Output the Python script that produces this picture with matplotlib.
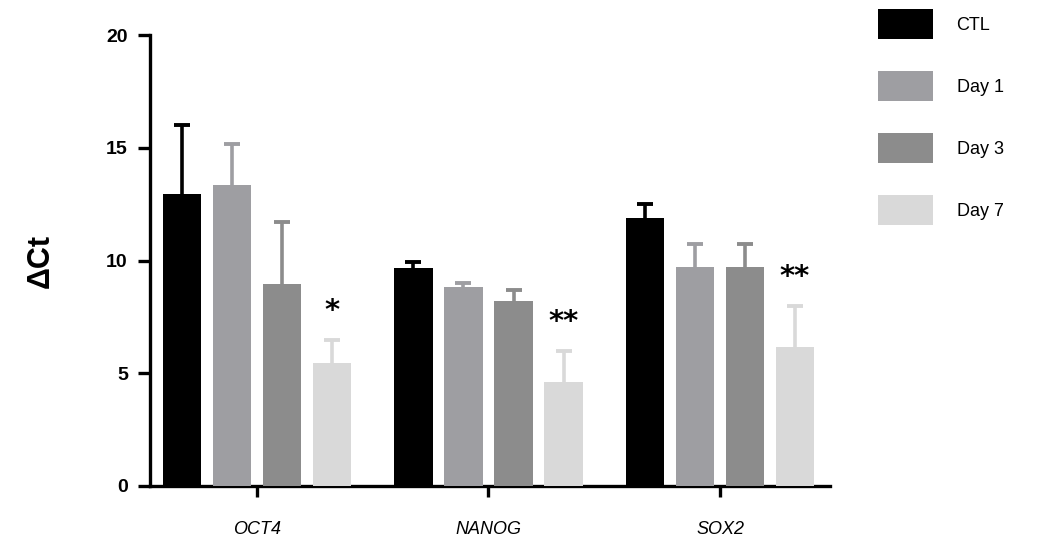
import matplotlib
matplotlib.use("Agg")
import matplotlib.pyplot as plt
import numpy as np
from matplotlib.patches import Patch

plt.rcParams['font.family'] = ['Liberation Sans', 'DejaVu Sans']

genes = ["OCT4", "NANOG", "SOX2"]
series = ["CTL", "Day 1", "Day 3", "Day 7"]
means = {
    "CTL":   [12.95, 9.68, 11.9],
    "Day 1": [13.35, 8.84, 9.73],
    "Day 3": [8.96, 8.22, 9.73],
    "Day 7": [5.47, 4.63, 6.18],
}
errs = {
    "CTL":   [3.05, 0.27, 0.6],
    "Day 1": [1.82, 0.15, 0.99],
    "Day 3": [2.76, 0.47, 0.99],
    "Day 7": [1.0, 1.36, 1.8],
}
stars = {"Day 7": ["*", "**", "**"]}
colors = {"CTL": "#000000", "Day 1": "#9e9ea2", "Day 3": "#8c8c8c", "Day 7": "#d9d9d9"}
yticks = [0, 5, 10, 15, 20]

fig = plt.figure(figsize=(10.52, 5.4), dpi=100)
ax = fig.add_axes([150/1052, 1-486/540, (830-150)/1052, (486-35)/540])

x = np.arange(len(genes))
step = 0.216
width = 0.168
hide = 0.4
for i, s in enumerate(series):
    pos = x + (i - 1.5) * step
    m = np.array(means[s])
    e = np.array(errs[s])
    ax.bar(pos, m, width=width, color=colors[s], zorder=3)
    ax.errorbar(pos, m - hide, yerr=[np.zeros_like(e), e + hide], fmt='none',
                ecolor=colors[s], elinewidth=2.6, capsize=6, capthick=2.8, zorder=1)
    if s in stars:
        for p, mm, ee, st in zip(pos, m, e, stars[s]):
            ax.annotate(st, (p, mm + ee), xytext=(0, 11), textcoords='offset points',
                        ha='center', va='bottom', fontsize=21, fontweight='bold',
                        family=['DejaVu Sans'])

ax.set_xlim(-0.462, 2.475)
ax.set_ylim(0, 20)
ax.set_yticks(yticks)
ax.set_yticklabels([str(t) for t in yticks], fontsize=14, fontweight='bold')
ax.set_xticks(x)
ax.set_xticklabels(genes, fontsize=13, style='italic')
for sp in ['top', 'right']:
    ax.spines[sp].set_visible(False)
for sp in ['left', 'bottom']:
    ax.spines[sp].set_linewidth(2.4)
ax.tick_params(axis='y', length=9, width=2.4, pad=7)
ax.tick_params(axis='x', length=8, width=2.4, pad=17)
ax.set_ylabel("ΔCt", fontsize=22, fontweight='bold')
ax.yaxis.set_label_coords((56 - 150) / 680, 0.5)

handles = [Patch(facecolor=colors[s], edgecolor='none', label=s) for s in series]
fig.legend(handles=handles, loc='upper left', bbox_to_anchor=(878/1052, 1-9/540),
           frameon=False, fontsize=13, handlelength=3.05, handleheight=2.18,
           handletextpad=1.3, labelspacing=1.77, borderpad=0, borderaxespad=0)

fig.savefig("out.png", dpi=100)
